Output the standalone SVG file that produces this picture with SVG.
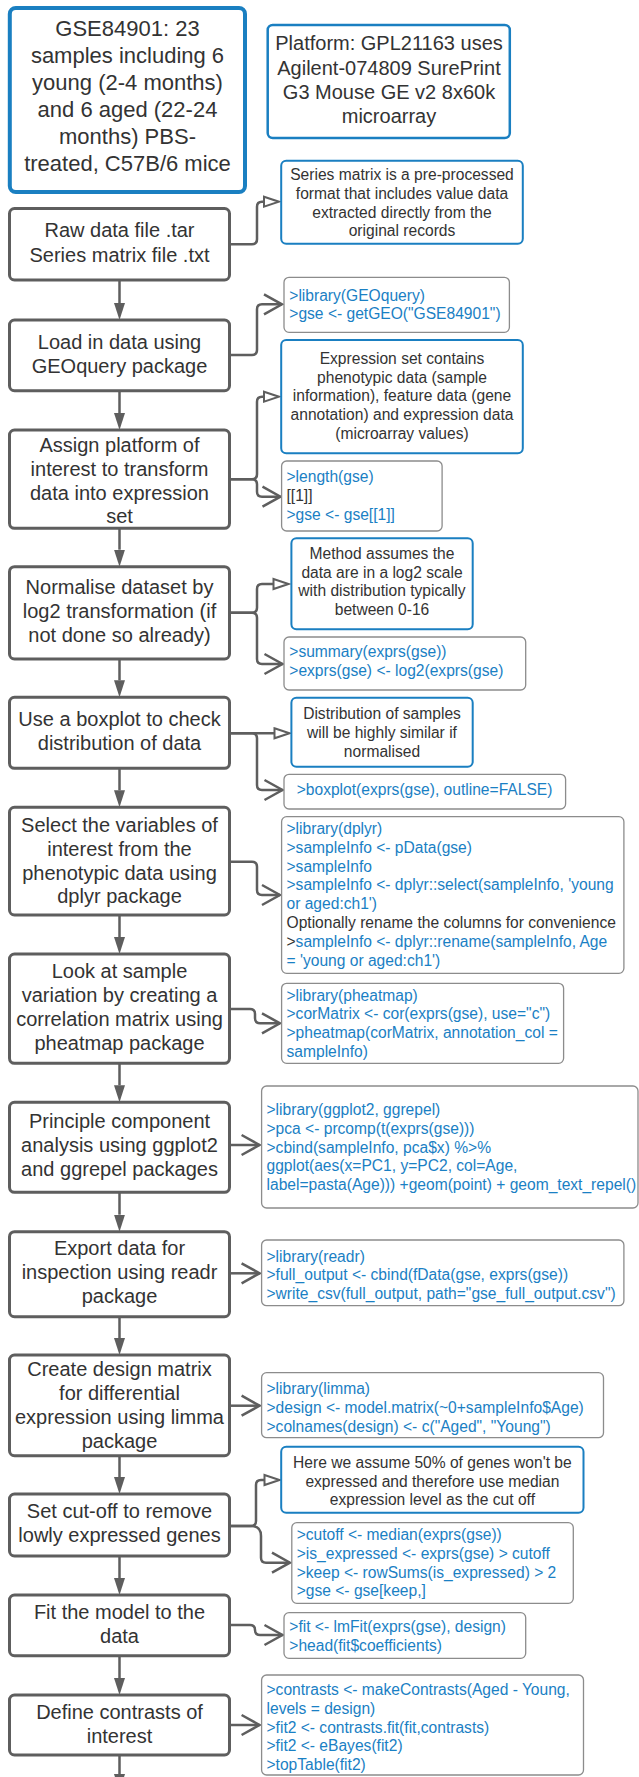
<svg xmlns="http://www.w3.org/2000/svg" width="639" height="1777" viewBox="0 0 639 1777">
  <style>
    .box { fill: #fff; stroke: #5e5e5e; stroke-width: 3; }
    .note { fill: #fff; stroke: #1a7fc1; stroke-width: 2; }
    .code { fill: #fff; stroke: #8c8c8c; stroke-width: 1.3; }
    .conn { fill: none; stroke: #5e5e5e; stroke-width: 2.5; }
    text { font-family: "Liberation Sans", Arial, sans-serif; }
    .lbl { font-size: 20px; fill: #333; text-anchor: middle; }
    .big { font-size: 22px; fill: #333; text-anchor: middle; }
    .nt { font-size: 15.6px; fill: #333; text-anchor: middle; }
    .cd { font-size: 15.6px; fill: #1a80c4; }
    .dk { fill: #333; }
  </style>
  <defs>
    <marker id="down" markerUnits="userSpaceOnUse" viewBox="0 -6 18 12" refX="0" refY="0" markerWidth="18" markerHeight="12" orient="auto">
      <path d="M0,-5.5 L17,0 L0,5.5 Z" fill="#5e5e5e"/>
    </marker>
    <marker id="hollow" markerUnits="userSpaceOnUse" viewBox="-2 -7 19 14" refX="0" refY="0" markerWidth="19" markerHeight="14" orient="auto">
      <path d="M0,-5 L15,0 L0,5 Z" fill="#fff" stroke="#5e5e5e" stroke-width="2"/>
    </marker>
    <marker id="chev" markerUnits="userSpaceOnUse" viewBox="-20 -12 22 24" refX="0" refY="0" markerWidth="22" markerHeight="24" orient="auto">
      <path d="M-18,-10 L0,0 L-18,10" fill="none" stroke="#5e5e5e" stroke-width="2.5"/>
    </marker>
  </defs>

  <!-- connectors -->
  <g id="connectors">
    <!-- main flow -->
    <path class="conn" marker-end="url(#down)" d="M119.5,280 V303"/>
    <path class="conn" marker-end="url(#down)" d="M119.5,390.7 V413"/>
    <path class="conn" marker-end="url(#down)" d="M119.5,528.3 V549.7"/>
    <path class="conn" marker-end="url(#down)" d="M119.5,659 V680.3"/>
    <path class="conn" marker-end="url(#down)" d="M119.5,768.3 V790.3"/>
    <path class="conn" marker-end="url(#down)" d="M119.5,915 V937"/>
    <path class="conn" marker-end="url(#down)" d="M119.5,1063.3 V1085.3"/>
    <path class="conn" marker-end="url(#down)" d="M119.5,1192.3 V1214.7"/>
    <path class="conn" marker-end="url(#down)" d="M119.5,1316.7 V1338"/>
    <path class="conn" marker-end="url(#down)" d="M119.5,1455.7 V1477"/>
    <path class="conn" marker-end="url(#down)" d="M119.5,1556 V1578"/>
    <path class="conn" marker-end="url(#down)" d="M119.5,1655.7 V1678"/>
    <path class="conn" marker-end="url(#down)" d="M119.5,1755 V1774"/>
    <!-- side branches -->
    <path class="conn" marker-end="url(#hollow)" d="M230,244.3 H252 Q257,244.3 257,239.3 V206.7 Q257,201.7 262,201.7 H264"/>
    <path class="conn" marker-end="url(#chev)" d="M230,355 H252 Q257,355 257,350 V309.3 Q257,304.3 262,304.3 H282"/>
    <path class="conn" marker-end="url(#hollow)" d="M230,479.3 H252 Q257,479.3 257,474.3 V401.7 Q257,396.7 262,396.7 H264"/>
    <path class="conn" marker-end="url(#chev)" d="M230,479.3 H252 Q257,479.3 257,484.3 V491.7 Q257,496.7 262,496.7 H280.5"/>
    <path class="conn" marker-end="url(#hollow)" d="M230,612.7 H252 Q257,612.7 257,607.7 V589 Q257,584 262,584 H273.5"/>
    <path class="conn" marker-end="url(#chev)" d="M230,612.7 H252 Q257,612.7 257,617.7 V659 Q257,664 262,664 H282.5"/>
    <path class="conn" marker-end="url(#hollow)" d="M230,733.3 H274.5"/>
    <path class="conn" marker-end="url(#chev)" d="M230,733.3 H252 Q257,733.3 257,738.3 V785 Q257,790 262,790 H282.5"/>
    <path class="conn" marker-end="url(#chev)" d="M230,861.7 H252 Q257,861.7 257,866.7 V890 Q257,895 262,895 H280"/>
    <path class="conn" marker-end="url(#chev)" d="M230,1009 H250 Q255,1009 255,1014 V1018.3 Q255,1023.3 260,1023.3 H280"/>
    <path class="conn" marker-end="url(#chev)" d="M230,1145 H259.6"/>
    <path class="conn" marker-end="url(#chev)" d="M230,1273.3 H259.6"/>
    <path class="conn" marker-end="url(#chev)" d="M230,1405.7 H259.6"/>
    <path class="conn" marker-end="url(#hollow)" d="M230,1526 H251 Q256,1526 256,1521 V1485 Q256,1480 261,1480 H264.5"/>
    <path class="conn" marker-end="url(#chev)" d="M230,1526 H251 Q261,1526 261,1536 V1557.7 Q261,1562.7 266,1562.7 H290"/>
    <path class="conn" marker-end="url(#chev)" d="M230,1625 H250 Q255,1625 255,1630 Q255,1635 260,1635 H282.5"/>
    <path class="conn" marker-end="url(#chev)" d="M230,1725 H259.6"/>
  </g>

  <!-- dataset and platform -->
  <g id="dataset">
    <rect x="9.8" y="8" width="235.2" height="184" rx="6" fill="#fff" stroke="#1a7fc1" stroke-width="4"/>
    <text class="big" x="127.5" y="36">GSE84901: 23</text>
    <text class="big" x="127.5" y="63">samples including 6</text>
    <text class="big" x="127.5" y="90">young (2-4 months)</text>
    <text class="big" x="127.5" y="117">and 6 aged (22-24</text>
    <text class="big" x="127.5" y="144">months) PBS-</text>
    <text class="big" x="127.5" y="170.7">treated, C57B/6 mice</text>
  </g>
  <g id="platform">
    <rect x="267.7" y="25" width="242.1" height="113" rx="5" fill="#fff" stroke="#1a7fc1" stroke-width="2.5"/>
    <text class="lbl" x="389" y="50">Platform: GPL21163 uses</text>
    <text class="lbl" x="389" y="74.5">Agilent-074809 SurePrint</text>
    <text class="lbl" x="389" y="99">G3 Mouse GE v2 8x60k</text>
    <text class="lbl" x="389" y="123.3">microarray</text>
  </g>

  <!-- workflow steps -->
  <g id="step-raw">
    <rect class="box" x="9.5" y="208.5" width="220" height="71.5" rx="5"/>
    <text class="lbl" x="119.5" y="237.3">Raw data file .tar</text>
    <text class="lbl" x="119.5" y="261.7">Series matrix file .txt</text>
  </g>
  <g id="step-load">
    <rect class="box" x="9.5" y="320" width="220" height="70.7" rx="5"/>
    <text class="lbl" x="119.5" y="349.3">Load in data using</text>
    <text class="lbl" x="119.5" y="373.3">GEOquery package</text>
  </g>
  <g id="step-assign">
    <rect class="box" x="9.5" y="430" width="220" height="98.3" rx="5"/>
    <text class="lbl" x="119.5" y="451.7">Assign platform of</text>
    <text class="lbl" x="119.5" y="475.5">interest to transform</text>
    <text class="lbl" x="119.5" y="499.5">data into expression</text>
    <text class="lbl" x="119.5" y="523.3">set</text>
  </g>
  <g id="step-normalise">
    <rect class="box" x="9.5" y="566.7" width="220" height="92.3" rx="5"/>
    <text class="lbl" x="119.5" y="594">Normalise dataset by</text>
    <text class="lbl" x="119.5" y="618.2">log2 transformation (if</text>
    <text class="lbl" x="119.5" y="642">not done so already)</text>
  </g>
  <g id="step-boxplot">
    <rect class="box" x="9.5" y="697.3" width="220" height="71" rx="5"/>
    <text class="lbl" x="119.5" y="725.7">Use a boxplot to check</text>
    <text class="lbl" x="119.5" y="750">distribution of data</text>
  </g>
  <g id="step-select">
    <rect class="box" x="9.5" y="807.3" width="220" height="107.7" rx="5"/>
    <text class="lbl" x="119.5" y="831.7">Select the variables of</text>
    <text class="lbl" x="119.5" y="855.5">interest from the</text>
    <text class="lbl" x="119.5" y="879.5">phenotypic data using</text>
    <text class="lbl" x="119.5" y="903.3">dplyr package</text>
  </g>
  <g id="step-correlation">
    <rect class="box" x="9.5" y="954" width="220" height="109.3" rx="5"/>
    <text class="lbl" x="119.5" y="978.3">Look at sample</text>
    <text class="lbl" x="119.5" y="1002.3">variation by creating a</text>
    <text class="lbl" x="119.5" y="1026.2">correlation matrix using</text>
    <text class="lbl" x="119.5" y="1050">pheatmap package</text>
  </g>
  <g id="step-pca">
    <rect class="box" x="9.5" y="1102.3" width="220" height="90" rx="5"/>
    <text class="lbl" x="119.5" y="1128.3">Principle component</text>
    <text class="lbl" x="119.5" y="1152">analysis using ggplot2</text>
    <text class="lbl" x="119.5" y="1176">and ggrepel packages</text>
  </g>
  <g id="step-export">
    <rect class="box" x="9.5" y="1231.7" width="220" height="85" rx="5"/>
    <text class="lbl" x="119.5" y="1255">Export data for</text>
    <text class="lbl" x="119.5" y="1279.3">inspection using readr</text>
    <text class="lbl" x="119.5" y="1303.3">package</text>
  </g>
  <g id="step-design">
    <rect class="box" x="9.5" y="1355" width="220" height="100.7" rx="5"/>
    <text class="lbl" x="119.5" y="1376">Create design matrix</text>
    <text class="lbl" x="119.5" y="1400">for differential</text>
    <text class="lbl" x="119.5" y="1424">expression using limma</text>
    <text class="lbl" x="119.5" y="1448.3">package</text>
  </g>
  <g id="step-cutoff">
    <rect class="box" x="9.5" y="1494" width="220" height="62" rx="5"/>
    <text class="lbl" x="119.5" y="1518.3">Set cut-off to remove</text>
    <text class="lbl" x="119.5" y="1541.7">lowly expressed genes</text>
  </g>
  <g id="step-fit">
    <rect class="box" x="9.5" y="1595" width="220" height="60.7" rx="5"/>
    <text class="lbl" x="119.5" y="1619.3">Fit the model to the</text>
    <text class="lbl" x="119.5" y="1643.3">data</text>
  </g>
  <g id="step-contrasts">
    <rect class="box" x="9.5" y="1695" width="220" height="60" rx="5"/>
    <text class="lbl" x="119.5" y="1719.3">Define contrasts of</text>
    <text class="lbl" x="119.5" y="1743.3">interest</text>
  </g>

  <!-- explanatory notes -->
  <g id="note-series">
    <rect class="note" x="281.2" y="160.7" width="241.6" height="83" rx="5"/>
    <text class="nt" x="402" y="180">Series matrix is a pre-processed</text>
    <text class="nt" x="402" y="198.8">format that includes value data</text>
    <text class="nt" x="402" y="217.5">extracted directly from the</text>
    <text class="nt" x="402" y="236.2">original records</text>
  </g>
  <g id="note-expression">
    <rect class="note" x="281.2" y="340" width="241.6" height="113.3" rx="5"/>
    <text class="nt" x="402" y="364">Expression set contains</text>
    <text class="nt" x="402" y="382.7">phenotypic data (sample</text>
    <text class="nt" x="402" y="401.4">information), feature data (gene</text>
    <text class="nt" x="402" y="420.1">annotation) and expression data</text>
    <text class="nt" x="402" y="438.8">(microarray values)</text>
  </g>
  <g id="note-method">
    <rect class="note" x="291.4" y="538.3" width="181.3" height="91" rx="5"/>
    <text class="nt" x="382" y="559">Method assumes the</text>
    <text class="nt" x="382" y="577.7">data are in a log2 scale</text>
    <text class="nt" x="382" y="596.4">with distribution typically</text>
    <text class="nt" x="382" y="615">between 0-16</text>
  </g>
  <g id="note-distribution">
    <rect class="note" x="291.4" y="697.7" width="181.3" height="69" rx="5"/>
    <text class="nt" x="382" y="719">Distribution of samples</text>
    <text class="nt" x="382" y="737.8">will be highly similar if</text>
    <text class="nt" x="382" y="756.6">normalised</text>
  </g>
  <g id="note-cutoff">
    <rect class="note" x="281.2" y="1446.7" width="302.3" height="66" rx="5"/>
    <text class="nt" x="432.4" y="1468.3">Here we assume 50% of genes won't be</text>
    <text class="nt" x="432.4" y="1486.7">expressed and therefore use median</text>
    <text class="nt" x="432.4" y="1505">expression level as the cut off</text>
  </g>

  <!-- R code -->
  <g id="code-geoquery">
    <rect class="code" x="284" y="277.3" width="225.4" height="55" rx="5"/>
    <text class="cd" x="289.3" y="300.7">&gt;library(GEOquery)</text>
    <text class="cd" x="289.3" y="319.3">&gt;gse &lt;- getGEO("GSE84901")</text>
  </g>
  <g id="code-length">
    <rect class="code" x="281.6" y="461" width="160.5" height="70" rx="5"/>
    <text class="cd" x="286.5" y="482.3">&gt;length(gse)</text>
    <text class="cd dk" x="286.5" y="501.2">[[1]]</text>
    <text class="cd" x="286.5" y="520">&gt;gse &lt;- gse[[1]]</text>
  </g>
  <g id="code-log2">
    <rect class="code" x="284" y="637" width="241.7" height="53" rx="5"/>
    <text class="cd" x="289.3" y="657.3">&gt;summary(exprs(gse))</text>
    <text class="cd" x="289.3" y="676">&gt;exprs(gse) &lt;- log2(exprs(gse)</text>
  </g>
  <g id="code-boxplot">
    <rect class="code" x="284" y="774.3" width="281.6" height="34.7" rx="5"/>
    <text class="cd" x="296.7" y="795">&gt;boxplot(exprs(gse), outline=FALSE)</text>
  </g>
  <g id="code-dplyr">
    <rect class="code" x="281.6" y="816.7" width="342.3" height="156.6" rx="5"/>
    <text class="cd" x="286.5" y="834">&gt;library(dplyr)</text>
    <text class="cd" x="286.5" y="852.8">&gt;sampleInfo &lt;- pData(gse)</text>
    <text class="cd" x="286.5" y="871.6">&gt;sampleInfo</text>
    <text class="cd" x="286.5" y="890.4">&gt;sampleInfo &lt;- dplyr::select(sampleInfo, 'young</text>
    <text class="cd" x="286.5" y="909.2">or aged:ch1')</text>
    <text class="cd dk" x="286.5" y="928">Optionally rename the columns for convenience</text>
    <text class="cd" x="286.5" y="946.8"><tspan class="dk">&gt;</tspan>sampleInfo &lt;- dplyr::rename(sampleInfo, Age</text>
    <text class="cd" x="286.5" y="965.6">= 'young or aged:ch1')</text>
  </g>
  <g id="code-pheatmap">
    <rect class="code" x="281.6" y="983.3" width="282" height="80" rx="5"/>
    <text class="cd" x="286.5" y="1000.7">&gt;library(pheatmap)</text>
    <text class="cd" x="286.5" y="1019.4">&gt;corMatrix &lt;- cor(exprs(gse), use="c")</text>
    <text class="cd" x="286.5" y="1038.1">&gt;pheatmap(corMatrix, annotation_col =</text>
    <text class="cd" x="286.5" y="1056.8">sampleInfo)</text>
  </g>
  <g id="code-pca">
    <rect class="code" x="261.6" y="1086" width="376.4" height="122" rx="5"/>
    <text class="cd" x="266.5" y="1115">&gt;library(ggplot2, ggrepel)</text>
    <text class="cd" x="266.5" y="1133.8">&gt;pca &lt;- prcomp(t(exprs(gse)))</text>
    <text class="cd" x="266.5" y="1152.6">&gt;cbind(sampleInfo, pca$x) %&gt;%</text>
    <text class="cd" x="266.5" y="1171.4">ggplot(aes(x=PC1, y=PC2, col=Age,</text>
    <text class="cd" x="266.5" y="1190.2">label=pasta(Age))) +geom(point) + geom_text_repel()</text>
  </g>
  <g id="code-readr">
    <rect class="code" x="261.6" y="1240" width="362.3" height="65.7" rx="5"/>
    <text class="cd" x="266.5" y="1261.7">&gt;library(readr)</text>
    <text class="cd" x="266.5" y="1280.4">&gt;full_output &lt;- cbind(fData(gse, exprs(gse))</text>
    <text class="cd" x="266.5" y="1299.1">&gt;write_csv(full_output, path="gse_full_output.csv")</text>
  </g>
  <g id="code-limma">
    <rect class="code" x="261.6" y="1372.7" width="341.9" height="65" rx="5"/>
    <text class="cd" x="266.5" y="1394">&gt;library(limma)</text>
    <text class="cd" x="266.5" y="1412.8">&gt;design &lt;- model.matrix(~0+sampleInfo$Age)</text>
    <text class="cd" x="266.5" y="1431.6">&gt;colnames(design) &lt;- c("Aged", "Young")</text>
  </g>
  <g id="code-cutoff">
    <rect class="code" x="291.8" y="1522.7" width="281.5" height="80.6" rx="5"/>
    <text class="cd" x="296.7" y="1540">&gt;cutoff &lt;- median(exprs(gse))</text>
    <text class="cd" x="296.7" y="1558.8">&gt;is_expressed &lt;- exprs(gse) &gt; cutoff</text>
    <text class="cd" x="296.7" y="1577.6">&gt;keep &lt;- rowSums(is_expressed) &gt; 2</text>
    <text class="cd" x="296.7" y="1596.4">&gt;gse &lt;- gse[keep,]</text>
  </g>
  <g id="code-fit">
    <rect class="code" x="284" y="1612.7" width="241.7" height="45.6" rx="5"/>
    <text class="cd" x="289.3" y="1632.3">&gt;fit &lt;- lmFit(exprs(gse), design)</text>
    <text class="cd" x="289.3" y="1650.8">&gt;head(fit$coefficients)</text>
  </g>
  <g id="code-contrasts">
    <rect class="code" x="261.6" y="1675" width="321.9" height="100" rx="5"/>
    <text class="cd" x="266.5" y="1695">&gt;contrasts &lt;- makeContrasts(Aged - Young,</text>
    <text class="cd" x="266.5" y="1713.8">levels = design)</text>
    <text class="cd" x="266.5" y="1732.6">&gt;fit2 &lt;- contrasts.fit(fit,contrasts)</text>
    <text class="cd" x="266.5" y="1751.4">&gt;fit2 &lt;- eBayes(fit2)</text>
    <text class="cd" x="266.5" y="1770.2">&gt;topTable(fit2)</text>
  </g>
</svg>
